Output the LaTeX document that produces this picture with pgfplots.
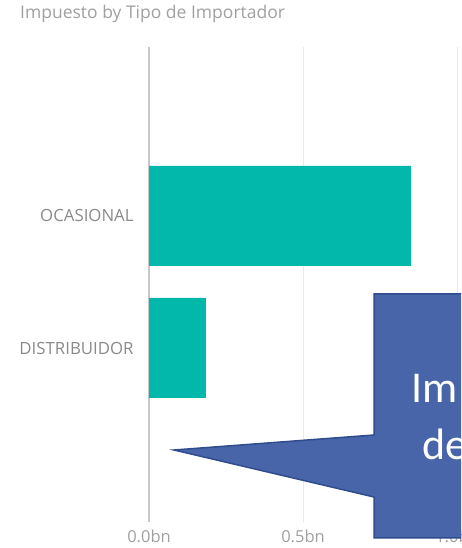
\documentclass[border=0pt]{standalone}
\usepackage{pgfplots}
\pgfplotsset{compat=1.18}
\usepackage{fontspec}
\setmainfont{Open Sans}
\newfontfamily\calibri{Carlito}
\definecolor{barteal}{HTML}{01B8AA}
\definecolor{gridgray}{HTML}{EBEBEB}
\definecolor{zerogray}{HTML}{C8C8C8}
\definecolor{txtgray}{HTML}{8A8A8A}
\definecolor{titlegray}{HTML}{A0A0A0}
\definecolor{callfill}{HTML}{4865AA}
\definecolor{calldraw}{HTML}{2F4C8C}
\begin{document}
\begin{tikzpicture}[x=1pt,y=1pt]
\useasboundingbox (0,0) rectangle (461,548);
\clip (0,0) rectangle (461,548);
\node[anchor=base west, inner sep=0pt, text=titlegray, font=\fontsize{17.5}{20}\selectfont] at (20,529) {Impuesto by Tipo de Importador};
\begin{axis}[
  at={(149pt,26pt)}, anchor=south west,
  scale only axis, width=308pt, height=475pt,
  xmin=0, xmax=1, ymin=-1.318, ymax=2.280,
  xbar, bar width=100pt, bar shift=0pt,
  xtick={0.5,1}, xticklabels={0.5bn,1.0bn},
  extra x ticks={0}, extra x tick labels={0.0bn},
  extra x tick style={grid style={zerogray, line width=1.2pt}},
  ytick={0,1}, yticklabels={DISTRIBUIDOR,OCASIONAL},
  xmajorgrids, grid style={gridgray, line width=0.8pt},
  axis line style={draw=none}, tick style={draw=none},
  xticklabel style={anchor=base, yshift=-20pt, inner sep=0pt, text=titlegray, font=\fontsize{16.5}{19}\selectfont},
  yticklabel style={anchor=east, xshift=-11pt, inner sep=0pt, text=txtgray, font=\fontsize{16.8}{19}\selectfont},
  clip=false,
]
\addplot[fill=barteal, draw=none] coordinates {(0.851,1) (0.185,0)};
\end{axis}
\draw[fill=callfill, draw=calldraw, line width=1.5pt, line join=miter]
  (374,254) -- (530,254) -- (530,10) -- (374,10) -- (374,51) -- (174,98) -- (374,113) -- cycle;
\node[anchor=base west, inner sep=0pt, text=white, font=\calibri\fontsize{44}{50}\selectfont] at (411,145) {Im};
\node[anchor=base west, inner sep=0pt, text=white, font=\calibri\fontsize{44}{50}\selectfont] at (422,88) {de};
\end{tikzpicture}
\end{document}
